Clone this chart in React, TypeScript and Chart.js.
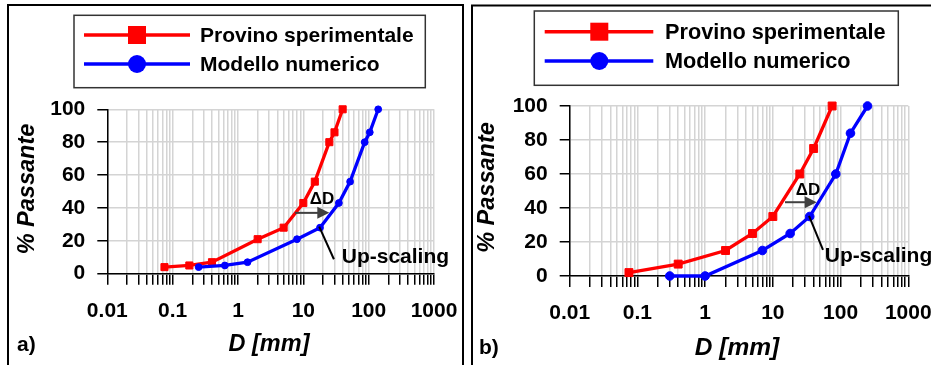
import React, { useEffect, useRef } from 'react';
import { Chart, registerables } from 'chart.js';
Chart.register(...registerables);

const FONT = '"Liberation Sans", Arial, Helvetica, sans-serif';

// ---- tick labels ----
const decadeLabels = ['0.01', '0.1', '1', '10', '100', '1000'];
const decadeExps = [-2, -1, 0, 1, 2, 3];
const yLabelled = [0, 20, 40, 60, 80, 100];

// ---- series names ----
const seriesNames = ['Provino sperimentale', 'Modello numerico'];

// ---- panel a) ----
const aProvinoD = [0.075, 0.18, 0.4, 2, 5, 10, 15, 25, 30, 40];
const aProvinoP = [4, 5, 7, 21, 28, 43, 56, 80, 86, 100];
const aModelloD = [0.25, 0.63, 1.4, 8, 18, 35, 52, 87, 104, 140];
const aModelloP = [4, 5, 7, 21, 28, 43, 56, 80, 86, 100];

// ---- panel b) ----
const bProvinoD = [0.075, 0.4, 2, 5, 10, 25, 40, 75];
const bProvinoP = [2, 7, 15, 25, 35, 60, 75, 100];
const bModelloD = [0.3, 1, 7, 18, 35, 85, 140, 250];
const bModelloP = [0, 0, 15, 25, 35, 60, 84, 100];

// annotations in data units
const aArrow = { x0: 7.5, x1: 25, y: 37 };
const aDelta = { x: 19.3, y: 45 };
const aLeader = { x0: 17.5, y0: 28.6, x1: 29.4, y1: 8.8 };
const aUp = { x: 38.7, y: 10 };
const bArrow = { x0: 15.1, x1: 44.4, y: 43.4 };
const bDelta = { x: 33, y: 50.2 };
const bLeader = { x0: 34.2, y0: 35.3, x1: 55, y1: 15.3 };
const bUp = { x: 58.6, y: 11.8 };

const xTickValues: number[] = [];
for (let e = -2; e <= 2; e++) for (let m = 1; m <= 9; m++) xTickValues.push(+(m * Math.pow(10, e)).toPrecision(6));
xTickValues.push(1000);

const panels = [
  {
    left: 0, width: 466,
    plotLeft: 107.3, plotRight: 434, plotTop: 109.3, plotBottom: 273.7,
    border: { l: 8, t: 5, r: 463 },
    legend: { x0: 74, y0: 15.3, x1: 425.3, y1: 87.7, rows: [35, 64], lx0: 84, lx1: 190, mx: 137, tx: 200, size: 21 },
    yTitle: { x: 27.5, y: 189, size: 23.5 },
    xTitle: { x: 269, y: 345, size: 23.5 },
    tag: { text: 'a)', x: 17, y: 345 },
    sqR: 5, ciR: 3.4,
    provD: aProvinoD, provP: aProvinoP, modD: aModelloD, modP: aModelloP,
    arrow: aArrow, delta: aDelta, leader: aLeader, up: aUp,
  },
  {
    left: 466, width: 465,
    plotLeft: 103.7, plotRight: 442.3, plotTop: 106, plotBottom: 276,
    border: { l: 6, t: 5.5, r: 1000 },
    legend: { x0: 68.3, y0: 11, x1: 432.3, y1: 85.3, rows: [31.7, 61], lx0: 78.7, lx1: 187.3, mx: 133.3, tx: 199, size: 21.7 },
    yTitle: { x: 21.7, y: 187.5, size: 23.5 },
    xTitle: { x: 271, y: 348.3, size: 24.5 },
    tag: { text: 'b)', x: 13, y: 348 },
    sqR: 5.6, ciR: 4.3,
    provD: bProvinoD, provP: bProvinoP, modD: bModelloD, modP: bModelloP,
    arrow: bArrow, delta: bDelta, leader: bLeader, up: bUp,
  },
];

type PanelCfg = typeof panels[number];

function Panel({ cfg }: { cfg: PanelCfg }) {
  const ref = useRef<HTMLCanvasElement>(null);
  useEffect(() => {
    const H = 365;
    const deco = {
      id: 'deco',
      beforeDraw(chart: any) {
        const c = chart.ctx;
        c.save();
        c.fillStyle = '#fff';
        c.fillRect(0, 0, chart.width, chart.height);
        c.restore();
      },
      afterDraw(chart: any) {
        const c = chart.ctx as CanvasRenderingContext2D;
        const xs = chart.scales.x, ys = chart.scales.y;
        const px = (v: number) => xs.getPixelForValue(v);
        const py = (v: number) => ys.getPixelForValue(v);
        c.save();
        // panel border
        c.strokeStyle = '#000';
        c.lineWidth = 2;
        c.beginPath();
        c.moveTo(cfg.border.l, H + 5);
        c.lineTo(cfg.border.l, cfg.border.t);
        c.lineTo(cfg.border.r, cfg.border.t);
        c.lineTo(cfg.border.r, H + 5);
        c.stroke();
        // legend
        const L = cfg.legend;
        c.strokeStyle = '#333';
        c.lineWidth = 1.5;
        c.strokeRect(L.x0, L.y0, L.x1 - L.x0, L.y1 - L.y0);
        const cols = ['#ff0000', '#0000ff'];
        seriesNames.forEach((name, i) => {
          const y = L.rows[i];
          c.strokeStyle = cols[i];
          c.fillStyle = cols[i];
          c.lineWidth = 3.5;
          c.beginPath();
          c.moveTo(L.lx0, y);
          c.lineTo(L.lx1, y);
          c.stroke();
          if (i === 0) c.fillRect(L.mx - 9, y - 9, 18, 18);
          else { c.beginPath(); c.arc(L.mx, y, 9, 0, Math.PI * 2); c.fill(); }
          c.fillStyle = '#000';
          c.font = `bold ${L.size}px ${FONT}`;
          c.textAlign = 'left';
          c.textBaseline = 'middle';
          c.fillText(name, L.tx, y + 1);
        });
        // axis titles
        c.fillStyle = '#000';
        c.font = `italic bold ${cfg.yTitle.size}px ${FONT}`;
        c.textAlign = 'center';
        c.textBaseline = 'middle';
        c.save();
        c.translate(cfg.yTitle.x, cfg.yTitle.y);
        c.rotate(-Math.PI / 2);
        c.fillText('% Passante', 0, 0);
        c.restore();
        c.font = `italic bold ${cfg.xTitle.size}px ${FONT}`;
        c.fillText('D [mm]', cfg.xTitle.x, cfg.xTitle.y);
        c.font = `bold 21px ${FONT}`;
        c.textAlign = 'left';
        c.fillText(cfg.tag.text, cfg.tag.x, cfg.tag.y);
        // arrow ΔD
        const ay = py(cfg.arrow.y), ax0 = px(cfg.arrow.x0), ax1 = px(cfg.arrow.x1);
        c.strokeStyle = '#404040';
        c.fillStyle = '#404040';
        c.lineWidth = 2;
        c.beginPath();
        c.moveTo(ax0, ay);
        c.lineTo(ax1 - 10, ay);
        c.stroke();
        c.beginPath();
        c.moveTo(ax1, ay);
        c.lineTo(ax1 - 12, ay - 6);
        c.lineTo(ax1 - 12, ay + 6);
        c.closePath();
        c.fill();
        c.fillStyle = '#000';
        c.font = `bold 17px ${FONT}`;
        c.textAlign = 'center';
        c.fillText('\u0394D', px(cfg.delta.x), py(cfg.delta.y));
        // leader + Up-scaling
        c.strokeStyle = '#000';
        c.lineWidth = 2;
        c.beginPath();
        c.moveTo(px(cfg.leader.x0), py(cfg.leader.y0));
        c.lineTo(px(cfg.leader.x1), py(cfg.leader.y1));
        c.stroke();
        c.font = `bold 21px ${FONT}`;
        c.textAlign = 'left';
        c.fillText('Up-scaling', px(cfg.up.x), py(cfg.up.y));
        c.restore();
      },
    };

    const chart = new Chart(ref.current!, {
      type: 'line',
      data: {
        datasets: [
          {
            label: seriesNames[0],
            data: cfg.provD.map((d, i) => ({ x: d, y: cfg.provP[i] })),
            borderColor: '#ff0000', backgroundColor: '#ff0000',
            pointBackgroundColor: '#ff0000', pointBorderColor: '#ff0000',
            borderWidth: 3.3, pointStyle: 'rect', pointRadius: cfg.sqR, pointBorderWidth: 1,
            tension: 0, clip: false as any, order: 1,
          },
          {
            label: seriesNames[1],
            data: cfg.modD.map((d, i) => ({ x: d, y: cfg.modP[i] })),
            borderColor: '#0000ff', backgroundColor: '#0000ff',
            pointBackgroundColor: '#0000ff', pointBorderColor: '#0000ff',
            borderWidth: 3.3, pointStyle: 'circle', pointRadius: cfg.ciR, pointBorderWidth: 1,
            tension: 0, clip: false as any, order: 0,
          },
        ],
      },
      options: {
        responsive: false,
        animation: false,
        events: [],
        devicePixelRatio: 1,
        layout: {
          padding: { left: 0, top: cfg.plotTop, right: cfg.width - cfg.plotRight, bottom: 0 },
        },
        plugins: { legend: { display: false }, tooltip: { enabled: false } },
        scales: {
          x: {
            type: 'logarithmic',
            min: 0.01,
            max: 1000,
            afterBuildTicks: (s: any) => { s.ticks = xTickValues.map((v) => ({ value: v })); },
            afterFit: (s: any) => {
              s.height = H - cfg.plotBottom;
              s.paddingLeft = 0; s.paddingRight = 0;
            },
            grid: { color: '#d4d4d4', lineWidth: 1.5, tickColor: '#000', tickLength: 11, tickWidth: 1.5 },
            border: { display: true, color: '#000', width: 1.5 },
            ticks: {
              autoSkip: false, maxRotation: 0, minRotation: 0, padding: 14, color: '#000',
              font: { family: FONT, size: 21, weight: 'bold' },
              callback: (v: any) => {
                const e = Math.log10(Number(v));
                const k = decadeExps.findIndex((d) => Math.abs(d - e) < 1e-6);
                return k >= 0 ? decadeLabels[k] : '';
              },
            },
          },
          y: {
            type: 'linear',
            min: 0,
            max: 100,
            afterFit: (s: any) => {
              s.width = cfg.plotLeft;
              s.paddingTop = 0; s.paddingBottom = 0;
            },
            grid: {
              color: '#d4d4d4', lineWidth: 1.5, tickLength: 10, tickWidth: 1.5,
              tickColor: (ctx: any) => (ctx.tick && yLabelled.includes(ctx.tick.value) ? '#000' : '#777'),
            },
            border: { display: true, color: '#000', width: 1.5 },
            ticks: {
              stepSize: 10, padding: 12, color: '#000',
              font: { family: FONT, size: 21, weight: 'bold' },
              callback: (v: any) => (yLabelled.includes(Number(v)) ? String(v) : ''),
            },
          },
        },
      } as any,
      plugins: [deco],
    });
    return () => chart.destroy();
  }, [cfg]);
  return (
    <canvas
      ref={ref}
      width={cfg.width}
      height={365}
      style={{ position: 'absolute', left: cfg.left, top: 0, width: cfg.width, height: 365 }}
    />
  );
}

export default function App() {
  return (
    <div style={{ position: 'absolute', left: 0, top: 0, width: 931, height: 365, background: '#fff', overflow: 'hidden' }}>
      {panels.map((p, i) => (
        <Panel key={i} cfg={p} />
      ))}
    </div>
  );
}
